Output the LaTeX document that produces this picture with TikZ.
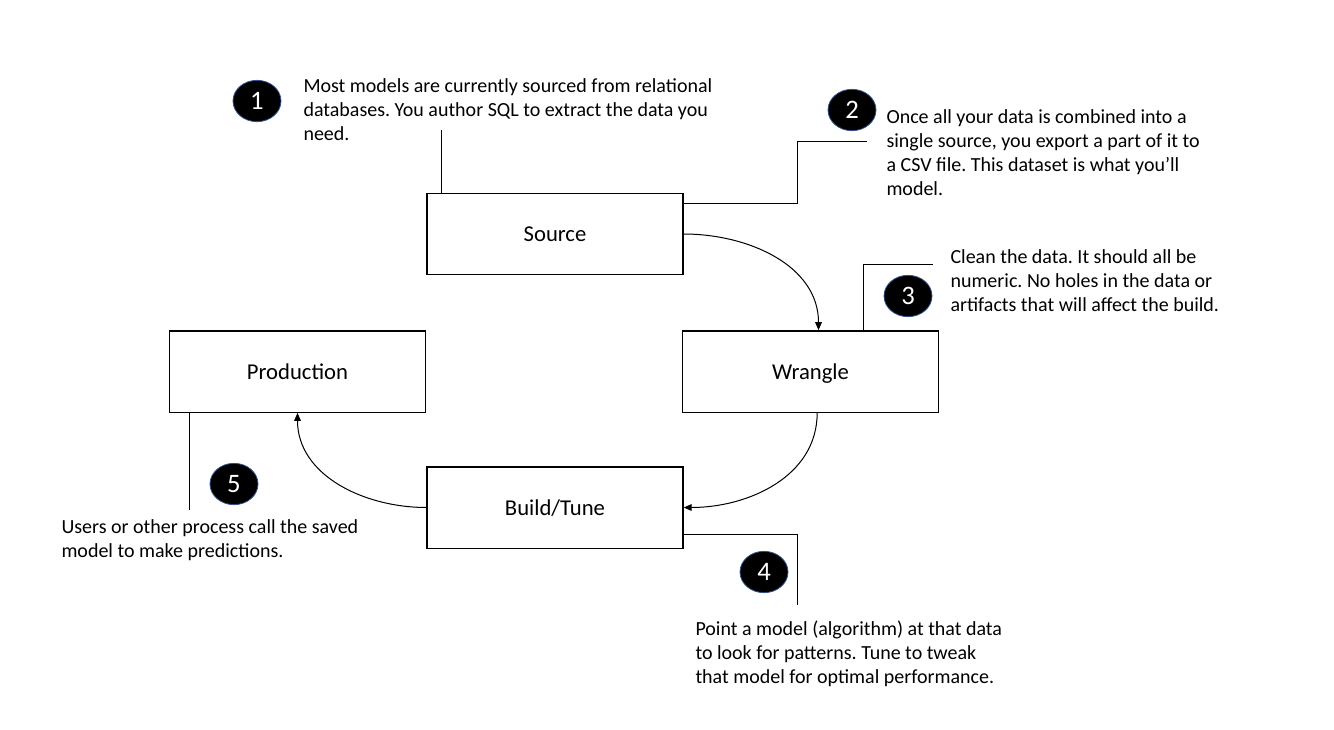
\documentclass[tikz,border=0pt]{standalone}
\usepackage{fontspec}
\setmainfont{Carlito}
\usetikzlibrary{positioning, arrows.meta, shapes.geometric}
\frenchspacing

\definecolor{badgerim}{HTML}{2F528F}

\tikzset{
  stage/.style={draw, line width=1pt, minimum width=192pt, minimum height=61pt, inner sep=0pt, text height=14pt, text depth=2.5pt, font=\fontsize{17}{20}\selectfont},
  badge/.style={ellipse, draw=badgerim, fill=black, line width=0.6pt, minimum width=36pt, minimum height=31pt, inner sep=0pt, text=white, font=\fontsize{20}{24}\selectfont},
  note/.style={anchor=north west, align=left, inner sep=0pt, font=\fontsize{15}{18}\selectfont},
  leader/.style={-, line width=0.75pt},
}

\begin{document}
\begin{tikzpicture}[x=0.75pt, y=-0.75pt, ->, >={Triangle[length=6pt, width=5pt]}, line width=0.75pt]
    \useasboundingbox (0,0) rectangle (1334,729);

    % the four stages
    \node[stage] (src) at (555,234) {Source};
    \node[stage] (wrg) at (810.5,371.5) {Wrangle};
    \node[stage] (prod) at (297.5,371.5) {Production};
    \node[stage] (build) at (555,507.5) {Build/Tune};

    \draw (src.east) to[out=0, in=90] ([xshift=6pt]wrg.north);
    \draw ([xshift=5pt]wrg.south) to[out=-90, in=0] (build.east);
    \draw (build.west) to[out=180, in=-90] (prod.south);

    % numbered badges
    \node[badge] (b1) at (257,101) {1};
    \node[badge] (b2) at (852,110) {2};
    \node[badge] (b3) at (908,296) {3};
    \node[badge] (b4) at (764,572) {4};
    \node[badge] (b5) at (234,484) {5};

    % notes
    \node[note] (n1) at (303,78) {Most models are currently sourced from relational\\databases. You author SQL to extract the data you\\need.};
    \node[note] (n2) at (886,109) {Once all your data is combined into a\\single source, you export a part of it to\\a CSV file. This dataset is what you’ll\\model.};
    \node[note] (n3) at (950,249) {Clean the data. It should all be\\numeric. No holes in the data or\\artifacts that will affect the build.};
    \node[note] (n4) at (695,620) {Point a model (algorithm) at that data\\to look for patterns. Tune to tweak\\that model for optimal performance.};
    \node[note] (n5) at (61,519) {Users or other process call the saved\\model to make predictions.};

    % leader lines
    \coordinate (c1) at (441,130);
    \coordinate (c2) at (867,141);
    \coordinate (c3) at (933,264);
    \coordinate (c4) at (797,605);
    \coordinate (c5) at (189,510);
    \draw[leader] (c1) -- (c1 |- src.north);
    \draw[leader] ([yshift=-8pt]src.north east) -| ([xshift=-52.5pt]c2) -- (c2);
    \draw[leader] ([xshift=40pt]wrg.north) |- (c3);
    \draw[leader] ([yshift=10.5pt]build.south east) -| (c4);
    \draw[leader] (c5 |- prod.south) -- (c5);
\end{tikzpicture}
\end{document}
